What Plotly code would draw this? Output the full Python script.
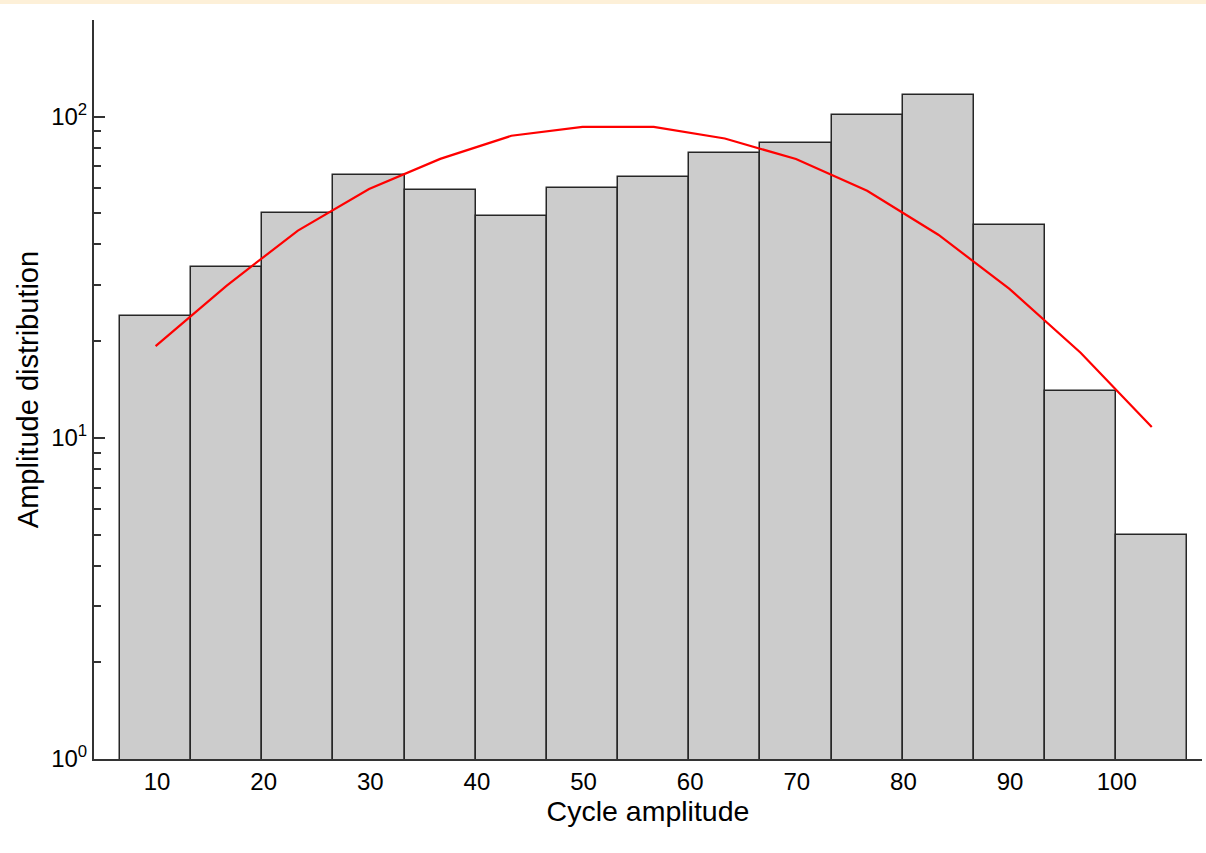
import numpy as np
import plotly.graph_objects as go

# ---- data ----
bin_start = 6.53          # left edge of first bin (cycle amplitude)
bin_width = 6.673         # bin width
counts = [24, 34, 50, 66, 59, 49, 60, 65, 77, 83, 101, 117, 46, 14, 5]
fit_values = [19.3, 29.8, 44.2, 59.5, 73.9, 87.2, 92.9, 92.9, 85.5, 73.8,
              58.8, 42.9, 29.1, 18.4, 10.8]
x_tick_vals = [10, 20, 30, 40, 50, 60, 70, 80, 90, 100]
y_tick_vals = [1, 10, 100]
y_tick_text = ["10<sup>0</sup>", "10<sup>1</sup>", "10<sup>2</sup>"]
y_minor_vals = [2, 3, 4, 5, 6, 7, 8, 9, 20, 30, 40, 50, 60, 70, 80, 90, 199.5]

centers = [bin_start + bin_width * (i + 0.5) for i in range(len(counts))]

FONT = "Arial, 'Liberation Sans', sans-serif"
AXC = "#333333"
YRANGE = [0, np.log10(200)]

fig = go.Figure()
fig.add_trace(go.Bar(
    x=centers, y=counts, width=bin_width,
    marker=dict(color="#cccccc", line=dict(color="#262626", width=1.5)),
    showlegend=False, hoverinfo="x+y",
))
fig.add_trace(go.Scatter(
    x=centers, y=fit_values, mode="lines",
    line=dict(color="#ff0000", width=2.2),
    showlegend=False,
))
# invisible helper trace so the minor-tick axis gets drawn
fig.add_trace(go.Scatter(x=centers, y=fit_values, yaxis="y2", mode="lines",
                         line=dict(width=0), opacity=0,
                         showlegend=False, hoverinfo="skip"))

fig.update_layout(
    width=1206, height=853,
    margin=dict(l=94, r=4, t=20, b=94, autoexpand=False),
    paper_bgcolor="white", plot_bgcolor="white",
    font=dict(family=FONT, color="black", size=24),
    bargap=0,
    shapes=[dict(type="rect", xref="paper", yref="paper",
                 x0=-0.1, x1=1.01, y0=1 + 16 / 739, y1=1 + 21 / 739,
                 fillcolor="#fdf0d8", line=dict(width=0), layer="below")],
    yaxis2=dict(
        type="log", range=YRANGE, overlaying="y", side="left",
        tickmode="array", tickvals=y_minor_vals, showticklabels=False,
        ticks="inside", ticklen=7, tickwidth=1.5, tickcolor=AXC,
        showgrid=False, zeroline=False, showline=False,
    ),
)

fig.update_xaxes(
    range=[4.09, 108.0],
    tickvals=x_tick_vals,
    ticks="", showgrid=False, zeroline=False,
    showline=True, linecolor=AXC, linewidth=2,
    tickfont=dict(size=24, family=FONT),
    title=dict(text="Cycle amplitude", font=dict(size=28.5, family=FONT), standoff=0),
)
fig.layout.yaxis.update(
    type="log", range=YRANGE,
    tickvals=y_tick_vals, ticktext=y_tick_text,
    ticks="inside", ticklen=11, tickwidth=1.5, tickcolor=AXC,
    showgrid=False, zeroline=False,
    showline=True, linecolor=AXC, linewidth=2,
    tickfont=dict(size=24, family=FONT),
    title=dict(text="Amplitude distribution", font=dict(size=29, family=FONT), standoff=4),
)

fig.write_html("out.html", config={"displayModeBar": False},
               post_script="document.body.style.margin='0';")
